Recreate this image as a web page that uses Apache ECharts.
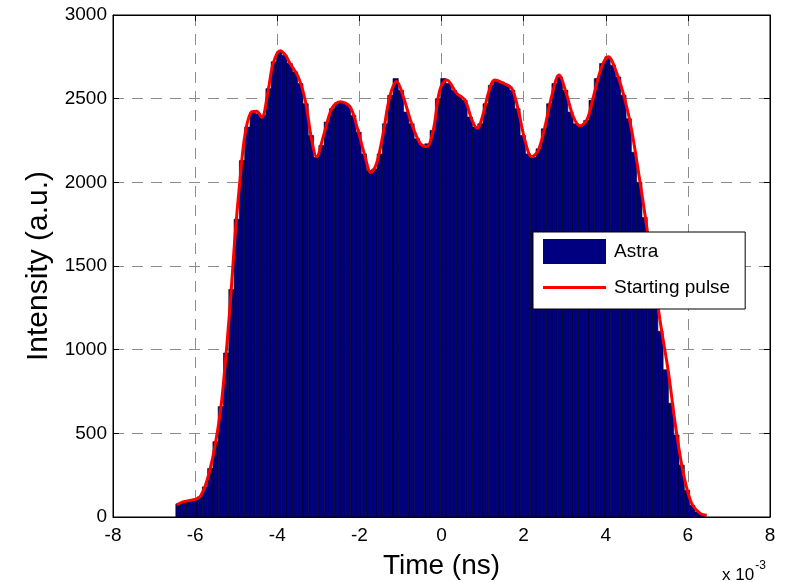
<!DOCTYPE html>
<html>
<head>
<meta charset="utf-8">
<script src="https://cdn.jsdelivr.net/npm/echarts@6/dist/echarts.min.js"></script>
<style>
  html, body { margin: 0; padding: 0; background: #fff; }
  #chart { width: 798px; height: 582px; }
</style>
</head>
<body>
<div id="chart"></div>
<script>
// histogram bins (time in units of 1e-3 ns)
var binStart = -6.47;
var binWidth = 0.129;
var astraCounts = [
  78, 88, 96, 105, 120, 180, 290, 450, 660, 980,
  1360, 1780, 2130, 2330, 2420, 2410, 2400, 2560, 2720, 2780,
  2760, 2710, 2660, 2590, 2470, 2280, 2150, 2220, 2360, 2440,
  2475, 2475, 2460, 2400, 2300, 2170, 2070, 2080, 2170, 2350,
  2520, 2620, 2550, 2420, 2350, 2260, 2220, 2230, 2310, 2500,
  2620, 2590, 2550, 2520, 2490, 2390, 2330, 2350, 2470, 2580,
  2610, 2600, 2580, 2550, 2440, 2280, 2170, 2150, 2200, 2320,
  2470, 2590, 2630, 2550, 2420, 2350, 2340, 2370, 2490, 2620,
  2710, 2750, 2700, 2630, 2520, 2380, 2180, 2000, 1790, 1560,
  1330, 1110, 880, 680, 490, 310, 160, 70, 30, 12
];

// starting pulse profile
var pulseTime = [
  -6.45, -6.3, -6.1, -5.95, -5.88, -5.76, -5.64, -5.52, -5.39, -5.31,
  -5.15, -5.03, -4.90, -4.78, -4.62, -4.50, -4.38, -4.22, -4.10, -3.93,
  -3.80, -3.69, -3.49, -3.32, -3.16, -3.04, -2.88, -2.67, -2.47, -2.23,
  -2.06, -1.86, -1.72, -1.58, -1.42, -1.26, -1.09, -0.93, -0.73, -0.52,
  -0.36, -0.20, -0.04, 0.13, 0.37, 0.57, 0.74, 0.87, 1.02, 1.14,
  1.30, 1.51, 1.71, 1.87, 2.03, 2.20, 2.36, 2.52, 2.68, 2.86,
  3.05, 3.21, 3.37, 3.54, 3.70, 3.90, 4.06, 4.27, 4.47, 4.63,
  4.84, 5.01, 5.32, 5.53, 5.69, 5.89, 6.09, 6.30, 6.46
];
var pulseIntensity = [
  72, 90, 100, 110, 121, 181, 281, 420, 621, 800,
  1257, 1675, 2034, 2294, 2422, 2425, 2388, 2552, 2711, 2787,
  2760, 2711, 2631, 2492, 2253, 2153, 2273, 2442, 2482, 2452,
  2333, 2153, 2058, 2114, 2293, 2512, 2602, 2512, 2353, 2233,
  2213, 2313, 2552, 2612, 2532, 2492, 2373, 2323, 2413, 2532,
  2612, 2592, 2562, 2432, 2253, 2153, 2193, 2333, 2512, 2641,
  2522, 2392, 2338, 2373, 2512, 2691, 2751, 2652, 2492, 2313,
  1994, 1715, 1177, 859, 560, 261, 82, 22, 10
];

var xTicks = [-8, 8, 2];
var yTicks = [0, 3000, 500];

var barData = astraCounts.map(function (v, i) {
  var lo = binStart + i * binWidth;
  return [lo, lo + binWidth, v];
});
var lineData = pulseTime.map(function (t, i) {
  return [t, pulseIntensity[i]];
});

var font = "'Liberation Sans', Arial, Helvetica, sans-serif";
var dashed = { color: '#8c8c8c', width: 1, type: [11, 8] };

var chart = echarts.init(document.getElementById('chart'), null, { renderer: 'canvas' });

var option = {
  animation: false,
  textStyle: { fontFamily: font },
  grid: {
    left: 113, right: 28, top: 15, bottom: 65,
    outerBoundsMode: 'none',
    containLabel: false,
    show: true, borderColor: '#000', borderWidth: 1, backgroundColor: '#fff'
  },
  legend: {
    orient: 'vertical',
    left: 533, top: 232,
    padding: [7, 15, 9, 10],
    itemGap: 11,
    itemWidth: 63, itemHeight: 25,
    backgroundColor: '#fff',
    borderColor: '#000', borderWidth: 1,
    textStyle: { fontFamily: font, fontSize: 19, color: '#000', padding: [0, 0, 0, 3] },
    data: [
      { name: 'Astra', icon: 'rect', itemStyle: { color: '#000080', borderWidth: 0 } },
      { name: 'Starting pulse', icon: 'path://M0,0M0,11L63,11L63,14L0,14ZM63,25',
        itemStyle: { color: '#ff0000', borderWidth: 0 } }
    ]
  },
  xAxis: [{
    type: 'value',
    min: xTicks[0], max: xTicks[1], interval: xTicks[2],
    name: 'Time (ns)',
    nameLocation: 'middle',
    nameGap: 35,
    nameTextStyle: { fontSize: 28, color: '#000', fontFamily: font },
    axisLine: { show: true, onZero: false, lineStyle: { color: '#000', width: 1 } },
    axisTick: { show: true, inside: true, length: 6, lineStyle: { color: '#000' } },
    axisLabel: { fontSize: 19, color: '#000', margin: 9, fontFamily: font },
    splitLine: { show: true, lineStyle: dashed }
  }, {
    type: 'value', position: 'top',
    min: xTicks[0], max: xTicks[1], interval: xTicks[2],
    axisLine: { show: true, onZero: false, lineStyle: { color: '#000' } },
    axisTick: { show: true, inside: true, length: 6, lineStyle: { color: '#000' } },
    axisLabel: { show: false }, splitLine: { show: false }
  }],
  yAxis: [{
    type: 'value',
    min: yTicks[0], max: yTicks[1], interval: yTicks[2],
    name: 'Intensity (a.u.)',
    nameLocation: 'middle',
    nameGap: 54,
    nameTextStyle: { fontSize: 30, color: '#000', fontFamily: font },
    axisLine: { show: true, onZero: false, lineStyle: { color: '#000', width: 1 } },
    axisTick: { show: true, inside: true, length: 6, lineStyle: { color: '#000' } },
    axisLabel: {
      fontSize: 19, color: '#000', margin: 6, fontFamily: font,
      formatter: function (v) { return String(v); }
    },
    splitLine: { show: true, lineStyle: dashed }
  }, {
    type: 'value', position: 'right',
    min: yTicks[0], max: yTicks[1], interval: yTicks[2],
    axisLine: { show: true, onZero: false, lineStyle: { color: '#000' } },
    axisTick: { show: true, inside: true, length: 6, lineStyle: { color: '#000' } },
    axisLabel: { show: false }, splitLine: { show: false }
  }],
  graphic: [{
    type: 'text',
    left: 722, top: 560,
    style: {
      text: '{a|x 10}{b|-3}',
      rich: {
        a: { fontSize: 17, fontFamily: font, fill: '#000', verticalAlign: 'bottom' },
        b: { fontSize: 12, fontFamily: font, fill: '#000', verticalAlign: 'top', padding: [0, 0, 12, 1] }
      }
    }
  }],
  series: [{
    name: 'Astra',
    type: 'custom',
    xAxisIndex: 0, yAxisIndex: 0,
    encode: { x: [0, 1], y: 2 },
    itemStyle: { color: '#000080' },
    renderItem: function (params, api) {
      var a = api.coord([api.value(0), 0]);
      var b = api.coord([api.value(1), api.value(2)]);
      return {
        type: 'rect',
        shape: { x: a[0], y: b[1], width: b[0] - a[0], height: a[1] - b[1] },
        style: { fill: '#000080', stroke: '#000', lineWidth: 0.6 }
      };
    },
    data: barData,
    z: 2
  }, {
    name: 'Starting pulse',
    type: 'line',
    xAxisIndex: 0, yAxisIndex: 0,
    smooth: 0.35,
    showSymbol: false,
    symbol: 'none',
    lineStyle: { color: '#ff0000', width: 3 },
    itemStyle: { color: '#ff0000' },
    data: lineData,
    z: 3
  }]
};

chart.setOption(option);
window.addEventListener('resize', chart.resize);
</script>
</body>
</html>
